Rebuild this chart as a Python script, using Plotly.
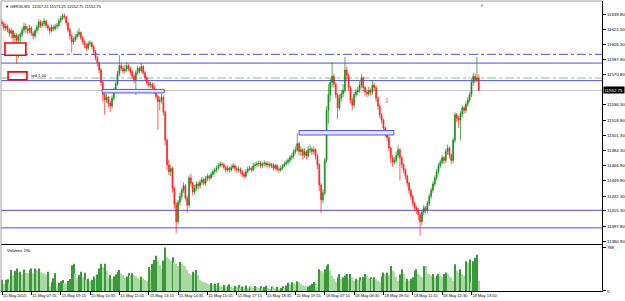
import plotly.graph_objects as go

title_text = "\u25BC GER30,M5  11567.25 11571.25 11552.75 11552.75"
volume_title = "Volumes 190"

time_labels = ["15 May 2015", "15 May 07:55", "15 May 09:15", "15 May 10:35", "15 May 11:55",
               "15 May 13:15", "15 May 14:35", "15 May 15:55", "15 May 17:15", "15 May 18:35",
               "15 May 19:55", "18 May 07:10", "18 May 08:30", "18 May 09:50", "18 May 11:10",
               "18 May 12:30", "18 May 13:50"]
bars_per_label = 16

opens = [
11631,11629,11624,11626,11622,11618,11621,11613,11616,11610,
11614,11617,11622,11626,11623,11621,11624,11618,11615,11621,
11625,11631,11627,11629,11632,11627,11624,11621,11625,11623,
11626,11627,11632,11635,11638,11637,11630,11622,11615,11608,
11611,11614,11617,11619,11613,11608,11605,11601,11606,11607,
11603,11597,11590,11584,11576,11562,11548,11542,11545,11538,
11535,11544,11553,11560,11572,11581,11578,11575,11577,11581,
11578,11574,11569,11565,11573,11578,11575,11580,11573,11567,
11562,11559,11560,11556,11552,11546,11540,11542,11545,11528,
11496,11468,11460,11464,11441,11423,11403,11425,11432,11439,
11444,11430,11422,11453,11447,11437,11441,11446,11444,11448,
11451,11447,11452,11455,11453,11457,11460,11462,11464,11467,
11469,11468,11465,11462,11464,11462,11465,11467,11464,11462,
11463,11460,11457,11455,11460,11463,11464,11462,11467,11468,
11469,11470,11467,11469,11470,11468,11469,11467,11468,11464,
11467,11463,11462,11464,11467,11469,11471,11473,11476,11478,
11483,11485,11492,11483,11485,11479,11483,11478,11485,11486,
11483,11485,11478,11468,11445,11428,11436,11473,11530,11548,
11562,11569,11560,11548,11533,11544,11549,11553,11576,11570,
11556,11542,11536,11548,11551,11553,11559,11567,11556,11551,
11549,11553,11551,11559,11556,11544,11535,11525,11519,11510,
11504,11499,11487,11476,11471,11473,11479,11485,11476,11468,
11462,11455,11447,11439,11432,11424,11419,11416,11411,11403,
11414,11419,11416,11424,11432,11439,11446,11453,11460,11467,
11471,11476,11473,11483,11487,11479,11473,11496,11525,11521,
11519,11526,11533,11530,11537,11542,11548,11562,11569,11565,
11567.25]

highs = [
11634,11631,11629,11628,11624,11624,11622,11619,11618,11617,
11620,11625,11630,11629,11626,11628,11626,11620,11623,11628,
11634,11633,11632,11635,11633,11629,11626,11628,11627,11629,
11630,11635,11638,11641,11641,11638,11631,11624,11617,11614,
11617,11621,11624,11620,11615,11610,11607,11609,11610,11609,
11605,11599,11592,11586,11578,11564,11550,11549,11547,11541,
11547,11556,11563,11575,11593,11584,11581,11582,11585,11583,
11580,11576,11571,11576,11581,11580,11584,11582,11575,11569,
11564,11563,11562,11558,11554,11548,11546,11549,11547,11530,
11498,11474,11468,11466,11443,11425,11428,11436,11442,11448,
11446,11433,11456,11458,11449,11445,11449,11449,11451,11454,
11453,11455,11458,11457,11460,11463,11465,11467,11470,11472,
11471,11470,11467,11467,11466,11468,11470,11469,11466,11466,
11465,11462,11459,11463,11466,11467,11466,11470,11471,11472,
11473,11472,11471,11473,11472,11472,11471,11470,11470,11469,
11469,11466,11467,11469,11472,11474,11476,11479,11481,11486,
11489,11504,11494,11489,11487,11487,11485,11489,11491,11488,
11489,11487,11480,11470,11447,11440,11476,11535,11560,11566,
11585,11572,11562,11550,11548,11553,11560,11591,11580,11572,
11558,11545,11551,11555,11557,11563,11572,11569,11558,11554,
11557,11556,11565,11562,11558,11546,11537,11527,11521,11512,
11507,11501,11489,11479,11477,11483,11490,11487,11478,11470,
11464,11457,11449,11441,11434,11426,11421,11419,11413,11417,
11422,11421,11427,11435,11442,11449,11456,11463,11470,11474,
11479,11478,11486,11491,11489,11481,11499,11528,11527,11524,
11529,11536,11535,11540,11545,11551,11566,11573,11572,11591,
11571.25]

lows = [
11626,11621,11621,11619,11614,11612,11608,11596,11583,11590,
11605,11614,11619,11618,11617,11618,11615,11611,11612,11618,
11622,11624,11625,11626,11624,11621,11617,11619,11620,11621,
11623,11625,11630,11633,11634,11627,11619,11611,11596,11605,
11608,11611,11614,11610,11605,11601,11598,11599,11603,11600,
11594,11587,11580,11572,11558,11540,11525,11538,11533,11528,
11532,11541,11550,11558,11569,11575,11572,11572,11574,11575,
11570,11566,11561,11548,11570,11572,11573,11570,11564,11559,
11556,11556,11553,11549,11543,11508,11530,11538,11524,11490,
11462,11456,11455,11436,11418,11390,11400,11421,11428,11436,
11427,11413,11419,11443,11433,11434,11438,11440,11441,11445,
11444,11444,11449,11450,11451,11454,11457,11459,11462,11465,
11465,11462,11459,11460,11459,11460,11463,11461,11459,11459,
11457,11454,11452,11453,11458,11461,11459,11460,11464,11465,
11466,11464,11464,11466,11465,11465,11464,11464,11461,11462,
11460,11459,11460,11462,11465,11467,11468,11470,11473,11475,
11480,11483,11479,11478,11474,11476,11474,11476,11481,11479,
11480,11474,11463,11438,11413,11424,11433,11470,11515,11540,
11557,11556,11544,11520,11530,11540,11545,11550,11565,11552,
11538,11530,11533,11545,11547,11550,11555,11552,11547,11545,
11546,11547,11548,11552,11540,11531,11521,11515,11506,11500,
11495,11483,11470,11466,11468,11470,11476,11450,11464,11458,
11451,11443,11435,11428,11420,11415,11412,11405,11387,11399,
11410,11412,11413,11421,11429,11436,11443,11450,11457,11464,
11468,11469,11470,11479,11475,11469,11470,11493,11517,11510,
11496,11522,11526,11527,11534,11539,11545,11558,11561,11562,
11552.75]

closes = [
11629,11624,11626,11622,11618,11621,11613,11616,11610,11614,
11617,11622,11626,11623,11621,11624,11618,11615,11621,11625,
11631,11627,11629,11632,11627,11624,11621,11625,11623,11626,
11627,11632,11635,11638,11637,11630,11622,11615,11608,11611,
11614,11617,11619,11613,11608,11605,11601,11606,11607,11603,
11597,11590,11584,11576,11562,11548,11542,11545,11538,11535,
11544,11553,11560,11572,11581,11578,11575,11577,11581,11578,
11574,11569,11565,11573,11578,11575,11580,11573,11567,11562,
11559,11560,11556,11552,11546,11540,11542,11545,11528,11496,
11468,11460,11464,11441,11423,11403,11425,11432,11439,11444,
11430,11422,11453,11447,11437,11441,11446,11444,11448,11451,
11447,11452,11455,11453,11457,11460,11462,11464,11467,11469,
11468,11465,11462,11464,11462,11465,11467,11464,11462,11463,
11460,11457,11455,11460,11463,11464,11462,11467,11468,11469,
11470,11467,11469,11470,11468,11469,11467,11468,11464,11467,
11463,11462,11464,11467,11469,11471,11473,11476,11478,11483,
11485,11492,11483,11485,11479,11483,11478,11485,11486,11483,
11485,11478,11468,11445,11428,11436,11473,11530,11548,11562,
11569,11560,11548,11533,11544,11549,11553,11576,11570,11556,
11542,11536,11548,11551,11553,11559,11567,11556,11551,11549,
11553,11551,11559,11556,11544,11535,11525,11519,11510,11504,
11499,11487,11476,11471,11473,11479,11485,11476,11468,11462,
11455,11447,11439,11432,11424,11419,11416,11411,11403,11414,
11419,11416,11424,11432,11439,11446,11453,11460,11467,11471,
11476,11473,11483,11487,11479,11473,11496,11525,11521,11519,
11526,11533,11530,11537,11542,11548,11562,11569,11565,11567,
11552.75]

volumes = [
203,120,203,210,150,377,290,365,406,330,
348,300,389,330,319,380,406,319,406,380,
406,340,319,319,300,348,87,160,232,319,
87,150,174,200,145,120,180,215,464,493,
320,232,290,348,250,331,203,220,174,200,
261,230,300,406,493,430,493,360,232,290,
220,261,300,348,377,320,290,240,261,319,
280,319,290,261,240,203,260,232,200,174,
435,380,493,560,638,551,480,406,551,783,
609,580,551,609,520,493,450,522,493,460,
435,380,319,300,348,320,377,290,203,174,
160,145,130,116,145,120,130,100,145,90,
80,110,70,95,120,80,60,90,75,110,
65,85,70,100,60,80,75,55,90,70,
60,85,50,70,95,60,45,80,65,50,
70,40,60,85,55,100,150,120,160,140,
110,175,162,130,104,90,75,80,104,130,
162,150,75,394,365,340,394,452,481,365,
278,220,162,249,307,220,249,280,307,220,
307,249,191,220,200,249,191,250,307,278,
230,249,220,249,210,191,162,260,336,307,
336,280,452,365,336,260,191,300,394,307,
191,220,191,220,249,365,394,307,280,249,
452,452,307,307,278,307,250,278,307,278,
250,307,336,307,270,249,191,481,365,330,
394,307,278,539,510,568,162,539,600,655,
190]

price_ticks = [11639.80, 11622.30, 11605.30, 11587.80, 11570.80, 11536.30, 11518.80,
               11501.30, 11484.30, 11466.80, 11449.80, 11432.30, 11415.30, 11397.80, 11380.80]
volume_ticks = [0, 788]
bid_price = 11552.75
blue_solid_levels = [11584, 11564, 11416, 11396]
blue_dashdot_level = 11594
green_dashdot_level = 11567
blue_boxes = [(54.6, 88.5, 11550, 11554), (162.0, 213.7, 11502, 11507)]
red_boxes = [(1.6, 13.0, 11593, 11607), (3.3, 13.6, 11565, 11574)]
arrow_marks = [(83, 11559), (210, 11541)]

n = len(closes)
idx = list(range(n))
label_pos = [k * bars_per_label for k in range(len(time_labels))]

vol_colors = []
for i, v in enumerate(volumes):
    if i == 0 or v > volumes[i - 1]:
        vol_colors.append("#3a9a3a")
    else:
        vol_colors.append("#acd8a4")

XR = [-0.55, 327.2]
BLUE = "#5050e0"

fig = go.Figure()
fig.add_trace(go.Candlestick(
    x=idx, open=opens, high=highs, low=lows, close=closes,
    increasing=dict(line=dict(color="#138a13", width=0.7), fillcolor="#138a13"),
    decreasing=dict(line=dict(color="#ff1a1a", width=0.7), fillcolor="#ff1a1a"),
    xaxis="x", yaxis="y", hoverinfo="skip"))
fig.add_trace(go.Bar(x=idx, y=volumes, marker=dict(color=vol_colors, line=dict(width=0)),
                     xaxis="x2", yaxis="y2", hoverinfo="skip"))

shapes = []
for lv in blue_solid_levels:
    shapes.append(dict(type="line", xref="x domain", x0=0, x1=1, yref="y", y0=lv, y1=lv,
                       line=dict(color=BLUE, width=1), layer="below"))
shapes.append(dict(type="line", xref="x domain", x0=0, x1=1, yref="y", y0=blue_dashdot_level,
                   y1=blue_dashdot_level, line=dict(color=BLUE, width=1, dash="dashdot"), layer="below"))
shapes.append(dict(type="line", xref="x domain", x0=0, x1=1, yref="y", y0=green_dashdot_level,
                   y1=green_dashdot_level, line=dict(color="#80c880", width=1, dash="dashdot"), layer="below"))
shapes.append(dict(type="line", xref="x domain", x0=0, x1=1, yref="y", y0=bid_price, y1=bid_price,
                   line=dict(color="#c4c4c4", width=1), layer="below"))
for (x0, x1, y0, y1) in blue_boxes:
    shapes.append(dict(type="rect", xref="x", yref="y", x0=x0, x1=x1, y0=y0, y1=y1,
                       line=dict(color=BLUE, width=1), fillcolor="#e6e6fb", layer="above"))
for (x0, x1, y0, y1) in red_boxes:
    shapes.append(dict(type="rect", xref="x", yref="y", x0=x0, x1=x1, y0=y0, y1=y1,
                       line=dict(color="#ff0000", width=1.6), fillcolor="white", layer="above"))
# frame
shapes.append(dict(type="line", xref="paper", yref="paper", x0=0, x1=0, y0=0, y1=1,
                   line=dict(color="#a0a0a0", width=1)))
shapes.append(dict(type="line", xref="paper", yref="paper", x0=0, x1=1, y0=1, y1=1,
                   line=dict(color="#a0a0a0", width=1)))

annotations = [
    dict(text=title_text, xref="paper", yref="paper", x=0.003, y=0.995, xanchor="left", yanchor="top",
         showarrow=False, font=dict(size=4, color="black")),
    dict(text=volume_title, xref="paper", yref="paper", x=0.006, y=0.156, xanchor="left", yanchor="top",
         showarrow=False, font=dict(size=4, color="black")),
    dict(text="sell 1.00", xref="x", yref="y", x=14.8, y=11569.5, xanchor="left", yanchor="middle",
         showarrow=False, font=dict(size=4, color="black")),
    dict(text=f"{bid_price:.2f}", xref="paper", yref="y", x=1, y=bid_price, xanchor="left", xshift=1,
         showarrow=False, bgcolor="black", font=dict(size=4.4, color="white"), borderpad=0.5),
    dict(text="\u25BC", xref="paper", yref="paper", x=0.8, y=1.0, xanchor="center", yanchor="top",
         showarrow=False, font=dict(size=4, color="#808080")),
]
for (ax, ay) in arrow_marks:
    annotations.append(dict(text="\u21E9", xref="x", yref="y", x=ax, y=ay, showarrow=False,
                            font=dict(size=7, color="#ff3030")))

fig.update_layout(
    width=625, height=301, margin=dict(l=1, r=23, t=1, b=10),
    paper_bgcolor="white", plot_bgcolor="white", showlegend=False,
    font=dict(family="Liberation Sans, Arial, sans-serif", size=4.4, color="black"),
    bargap=0.45,
    shapes=shapes, annotations=annotations,
    xaxis=dict(domain=[0, 1], range=XR, anchor="y", showticklabels=False, showgrid=False,
               zeroline=False, rangeslider=dict(visible=False), showline=True, linecolor="black",
               linewidth=1, ticks=""),
    yaxis=dict(domain=[0.1621, 1], range=[11377.6, 11654.86], side="right", tickvals=price_ticks,
               ticktext=[f"{v:.2f}" for v in price_ticks], ticks="outside", ticklen=3,
               tickcolor="black", showgrid=False, zeroline=False, showline=True, linecolor="black",
               tickfont=dict(size=4.4)),
    xaxis2=dict(domain=[0, 1], range=XR, anchor="y2", tickvals=label_pos, ticktext=time_labels,
                ticks="outside", ticklen=3, tickcolor="black", ticklabelposition="outside right",
                tickangle=0, showline=True, linecolor="black", showgrid=False, zeroline=False,
                tickfont=dict(size=4)),
    yaxis2=dict(domain=[0, 0.1586], range=[0, 830], side="right", tickvals=volume_ticks,
                ticktext=[str(v) for v in volume_ticks], ticks="outside", ticklen=3,
                tickcolor="black", showgrid=False, zeroline=False, showline=True, linecolor="black",
                tickfont=dict(size=4.4)),
)

fig.write_html("out.html")
